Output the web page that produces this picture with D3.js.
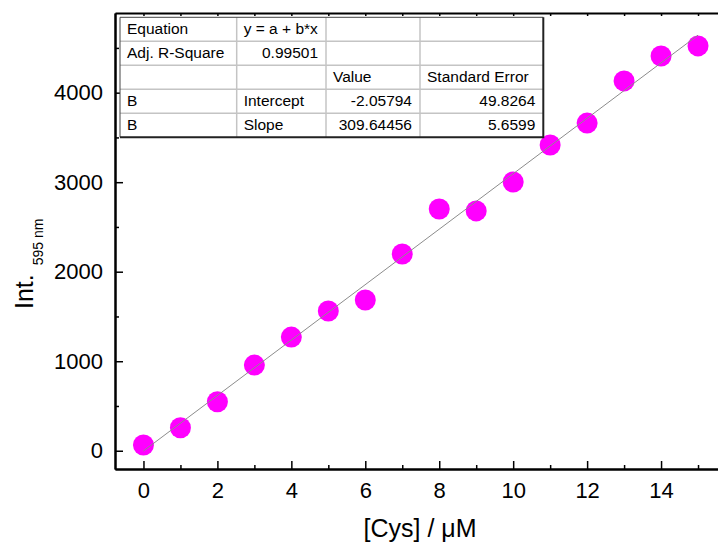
<!DOCTYPE html>
<html>
<head>
<meta charset="utf-8">
<script src="https://cdn.jsdelivr.net/npm/d3@7"></script>
<style>
  body { margin: 0; background: #fff; }
  svg { display: block; font-family: "Liberation Sans", Arial, sans-serif; }
</style>
</head>
<body>
<div id="chart"></div>
<script>
// data
const cysConc = [0, 1, 2, 3, 4, 5, 6, 7, 8, 9, 10, 11, 12, 13, 14, 15];
const intensity = [64, 257, 547, 957, 1270, 1561, 1684, 2198, 2700, 2679, 3002, 3415, 3660, 4131, 4410, 4522];
const fitIntercept = -2.05794;
const fitSlope = 309.64456;

const xMajorTicks = [0, 2, 4, 6, 8, 10, 12, 14];
const xMinorTicks = [1, 3, 5, 7, 9, 11, 13, 15];
const yMajorTicks = [0, 1000, 2000, 3000, 4000];
const yMinorTicks = [500, 1500, 2500, 3500, 4500];

const tableRows = [
  ["Equation", "y = a + b*x", "", ""],
  ["Adj. R-Square", "0.99501", "", ""],
  ["", "", "Value", "Standard Error"],
  ["B", "Intercept", "-2.05794", "49.8264"],
  ["B", "Slope", "309.64456", "5.6599"]
];

const width = 718;
const height = 547;

const svg = d3.select("#chart").append("svg")
    .attr("width", width)
    .attr("height", height);

const x = d3.scaleLinear()
    .domain([-0.77, 16])
    .range([115, 735]);

const y = d3.scaleLinear()
    .domain([-204, 4890])
    .range([469, 13]);

const plotLeft = x.range()[0];
const plotBottom = y.range()[0];
const plotTop = y.range()[1];

// fit line (drawn after the points, like the original)
const fitLine = d3.line()
    .x(d => x(d))
    .y(d => y(fitIntercept + fitSlope * d));

svg.append("g")
    .selectAll("circle")
    .data(cysConc)
    .join("circle")
    .attr("cx", (d, i) => x(d))
    .attr("cy", (d, i) => y(intensity[i]))
    .attr("r", 10.5)
    .attr("fill", "#ff00ff");

svg.append("path")
    .datum(d3.extent(cysConc))
    .attr("fill", "none")
    .attr("stroke", "#8c8c8c")
    .attr("stroke-width", 1)
    .attr("d", fitLine);

// axes, ticks pointing inside
function styleAxis(g) {
  g.select(".domain").attr("stroke", "#000").attr("stroke-width", 2);
  g.selectAll(".tick line").attr("stroke", "#000").attr("stroke-width", 1.5);
  g.selectAll(".tick text").attr("fill", "#000").style("font-size", "22px");
}

svg.append("g")
    .attr("transform", `translate(0,${plotBottom})`)
    .call(d3.axisBottom(x).tickValues(xMajorTicks).tickSize(-8).tickSizeOuter(0).tickPadding(13))
    .call(styleAxis);

svg.append("g")
    .attr("transform", `translate(0,${plotBottom})`)
    .call(d3.axisBottom(x).tickValues(xMinorTicks).tickSize(-4).tickSizeOuter(0).tickFormat(""))
    .call(styleAxis);

svg.append("g")
    .attr("transform", `translate(${plotLeft},0)`)
    .call(d3.axisLeft(y).tickValues(yMajorTicks).tickSize(-8).tickSizeOuter(0).tickPadding(12).tickFormat(d3.format("d")))
    .call(styleAxis);

svg.append("g")
    .attr("transform", `translate(${plotLeft},0)`)
    .call(d3.axisLeft(y).tickValues(yMinorTicks).tickSize(-4).tickSizeOuter(0).tickFormat(""))
    .call(styleAxis);

svg.append("g")
    .attr("transform", `translate(0,${plotTop})`)
    .call(d3.axisTop(x).tickValues(d3.merge([xMajorTicks, xMinorTicks])).tickSize(-3).tickSizeOuter(0).tickFormat(""))
    .call(styleAxis);

// axis titles
svg.append("text")
    .attr("x", 420)
    .attr("y", 537)
    .attr("text-anchor", "middle")
    .style("font-size", "25px")
    .text("[Cys] / \u03bcM");

const yTitle = svg.append("text")
    .attr("transform", "translate(33,309)rotate(-90)")
    .attr("text-anchor", "start")
    .style("font-size", "25px");
yTitle.append("tspan").text("Int.");
yTitle.append("tspan")
    .attr("dx", 9)
    .attr("dy", 10)
    .style("font-size", "14px")
    .text("595 nm");

// fit results table
const colX = [120, 236.7, 326, 420, 543.3];
const rowH = 24;
const tableTop = 17.3;
const tableBottom = tableTop + rowH * tableRows.length;

const table = svg.append("g");

table.append("rect")
    .attr("x", colX[0])
    .attr("y", tableTop)
    .attr("width", colX[colX.length - 1] - colX[0])
    .attr("height", tableBottom - tableTop)
    .attr("fill", "#fff");

table.selectAll("line.row")
    .data(d3.range(1, tableRows.length))
    .join("line")
    .attr("x1", colX[0])
    .attr("x2", colX[colX.length - 1])
    .attr("y1", i => tableTop + i * rowH)
    .attr("y2", i => tableTop + i * rowH)
    .attr("stroke", "#c4c4c4")
    .attr("stroke-width", 1.5);

table.selectAll("line.col")
    .data(d3.range(1, colX.length - 1))
    .join("line")
    .attr("x1", i => colX[i])
    .attr("x2", i => colX[i])
    .attr("y1", tableTop)
    .attr("y2", tableBottom)
    .attr("stroke", "#c4c4c4")
    .attr("stroke-width", 1.5);

table.append("path")
    .attr("d", `M${colX[0]},${tableBottom}V${tableTop}H${colX[colX.length - 1]}`)
    .attr("fill", "none")
    .attr("stroke", "#444")
    .attr("stroke-width", 1);

table.append("path")
    .attr("d", `M${colX[0]},${tableBottom}H${colX[colX.length - 1]}V${tableTop}`)
    .attr("fill", "none")
    .attr("stroke", "#222")
    .attr("stroke-width", 2);

tableRows.forEach((row, r) => {
  row.forEach((cell, c) => {
    if (cell === "") return;
    const numeric = !isNaN(+cell);
    table.append("text")
        .attr("x", numeric ? colX[c + 1] - 8 : colX[c] + 7)
        .attr("y", tableTop + r * rowH + 16.5)
        .attr("text-anchor", numeric ? "end" : "start")
        .style("font-size", "15.5px")
        .text(cell);
  });
});
</script>
</body>
</html>
